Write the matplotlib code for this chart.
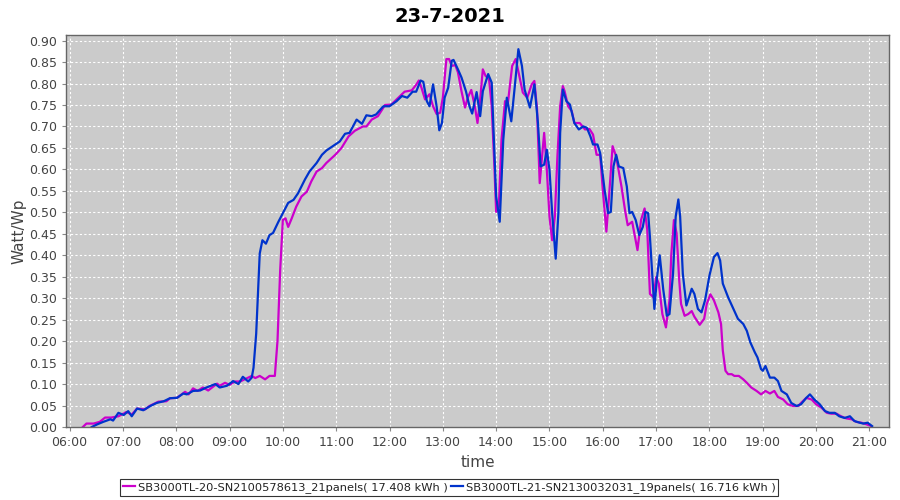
import matplotlib
matplotlib.use("Agg")
import matplotlib.pyplot as plt
import matplotlib.dates as mdates
import pandas as pd

day = "2021-07-23"

# SB3000TL-20 (21 panels), magenta
t20 = ["06:15", "06:19", "06:27", "06:34", "06:40", "06:47", "06:55", "07:04", "07:10", "07:16",
       "07:25", "07:30", "07:40", "07:49", "07:53", "08:01", "08:10", "08:14", "08:19", "08:24",
       "08:30", "08:36", "08:46", "08:49", "08:55", "09:00", "09:06", "09:12", "09:18", "09:25",
       "09:29", "09:34", "09:40", "09:45", "09:51", "09:54", "09:57", "10:00", "10:03", "10:06",
       "10:10", "10:15", "10:21", "10:27", "10:32", "10:38", "10:44", "10:49", "10:59", "11:06",
       "11:14", "11:21", "11:30", "11:34", "11:40", "11:47", "11:55", "12:02", "12:10", "12:17",
       "12:25", "12:30", "12:33", "12:36", "12:40", "12:45", "12:49", "12:53", "12:57", "13:00",
       "13:04", "13:07", "13:10", "13:14", "13:17", "13:21", "13:25", "13:28", "13:32", "13:36",
       "13:39", "13:42", "13:45", "13:48", "13:52", "13:55", "13:58", "14:00", "14:03", "14:06",
       "14:10", "14:13", "14:18", "14:22", "14:26", "14:30", "14:35", "14:40", "14:43", "14:46",
       "14:49", "14:52", "14:54", "14:57", "15:00", "15:03", "15:06", "15:09", "15:12", "15:15",
       "15:17", "15:21", "15:25", "15:28", "15:34", "15:40", "15:45", "15:49", "15:53", "15:57",
       "16:00", "16:04", "16:07", "16:11", "16:15", "16:21", "16:25", "16:28", "16:33", "16:39",
       "16:43", "16:47", "16:50", "16:53", "16:57", "17:00", "17:03", "17:07", "17:11", "17:15",
       "17:17", "17:20", "17:23", "17:26", "17:28", "17:32", "17:36", "17:40", "17:43", "17:49",
       "17:54", "17:57", "18:01", "18:05", "18:10", "18:13", "18:15", "18:18", "18:21", "18:25",
       "18:28", "18:33", "18:38", "18:42", "18:47", "18:53", "18:58", "19:03", "19:08", "19:13",
       "19:17", "19:23", "19:28", "19:34", "19:40", "19:43", "19:49", "19:55", "20:00", "20:06",
       "20:12", "20:17", "20:23", "20:28", "20:34", "20:40", "20:45", "20:51", "20:57", "21:02"]
v20 = [0.000, 0.008, 0.008, 0.012, 0.022, 0.022, 0.025, 0.035, 0.029, 0.043,
       0.041, 0.049, 0.059, 0.060, 0.067, 0.068, 0.082, 0.076, 0.090, 0.084,
       0.092, 0.085, 0.101, 0.096, 0.103, 0.098, 0.106, 0.106, 0.112, 0.119,
       0.114, 0.119, 0.111, 0.119, 0.119, 0.201, 0.365, 0.482, 0.486, 0.466,
       0.486, 0.513, 0.537, 0.548, 0.572, 0.595, 0.603, 0.615, 0.634, 0.650,
       0.677, 0.690, 0.700, 0.700, 0.716, 0.724, 0.750, 0.751, 0.767, 0.781,
       0.784, 0.797, 0.807, 0.790, 0.763, 0.775, 0.747, 0.729, 0.732, 0.767,
       0.857, 0.857, 0.841, 0.843, 0.826, 0.782, 0.744, 0.767, 0.785, 0.747,
       0.708, 0.763, 0.833, 0.818, 0.810, 0.747, 0.607, 0.501, 0.513, 0.669,
       0.759, 0.751, 0.841, 0.857, 0.818, 0.779, 0.767, 0.798, 0.806, 0.740,
       0.568, 0.638, 0.685, 0.599, 0.490, 0.435, 0.490, 0.634, 0.747, 0.794,
       0.782, 0.747, 0.736, 0.708, 0.708, 0.693, 0.694, 0.681, 0.634, 0.634,
       0.552, 0.455, 0.537, 0.654, 0.630, 0.560, 0.505, 0.470, 0.478, 0.412,
       0.482, 0.509, 0.459, 0.310, 0.302, 0.349, 0.334, 0.263, 0.232, 0.295,
       0.400, 0.482, 0.451, 0.341, 0.287, 0.259, 0.263, 0.270, 0.257, 0.238,
       0.252, 0.287, 0.309, 0.295, 0.267, 0.240, 0.178, 0.131, 0.123, 0.123,
       0.119, 0.119, 0.111, 0.103, 0.092, 0.084, 0.076, 0.084, 0.078, 0.084,
       0.070, 0.064, 0.053, 0.049, 0.049, 0.056, 0.068, 0.064, 0.053, 0.045,
       0.033, 0.031, 0.031, 0.025, 0.020, 0.018, 0.012, 0.010, 0.006, 0.002]

# SB3000TL-21 (19 panels), blue
t21 = ["06:25", "06:31", "06:38", "06:46", "06:49", "06:55", "07:01", "07:06", "07:10", "07:16",
       "07:23", "07:31", "07:38", "07:46", "07:53", "08:01", "08:08", "08:12", "08:19", "08:27",
       "08:34", "08:44", "08:49", "08:57", "09:04", "09:10", "09:15", "09:21", "09:25", "09:27",
       "09:30", "09:32", "09:34", "09:37", "09:41", "09:45", "09:49", "09:55", "10:00", "10:06",
       "10:12", "10:17", "10:25", "10:30", "10:38", "10:44", "10:49", "10:59", "11:04", "11:10",
       "11:15", "11:23", "11:29", "11:34", "11:40", "11:45", "11:53", "12:00", "12:08", "12:14",
       "12:20", "12:26", "12:30", "12:35", "12:38", "12:42", "12:45", "12:49", "12:53", "12:56",
       "12:59", "13:02", "13:06", "13:10", "13:12", "13:17", "13:21", "13:26", "13:30", "13:33",
       "13:38", "13:42", "13:45", "13:51", "13:55", "13:57", "14:00", "14:04", "14:08", "14:12",
       "14:17", "14:21", "14:25", "14:29", "14:32", "14:38", "14:43", "14:47", "14:50", "14:54",
       "14:57", "15:00", "15:03", "15:07", "15:10", "15:12", "15:15", "15:19", "15:23", "15:28",
       "15:33", "15:38", "15:42", "15:46", "15:49", "15:54", "15:57", "16:02", "16:06", "16:09",
       "16:12", "16:15", "16:18", "16:23", "16:27", "16:30", "16:33", "16:37", "16:41", "16:45",
       "16:48", "16:51", "16:53", "16:56", "16:58", "17:01", "17:04", "17:08", "17:12", "17:15",
       "17:19", "17:22", "17:25", "17:27", "17:30", "17:34", "17:37", "17:40", "17:43", "17:47",
       "17:51", "17:55", "18:00", "18:05", "18:09", "18:12", "18:15", "18:21", "18:27", "18:32",
       "18:38", "18:42", "18:46", "18:51", "18:54", "18:58", "19:00", "19:03", "19:08", "19:13",
       "19:17", "19:21", "19:27", "19:32", "19:38", "19:43", "19:49", "19:53", "19:58", "20:04",
       "20:10", "20:15", "20:21", "20:26", "20:32", "20:38", "20:43", "20:49", "20:53", "20:58",
       "21:03"]
v21 = [0.000, 0.006, 0.012, 0.018, 0.015, 0.033, 0.028, 0.037, 0.025, 0.043,
       0.039, 0.049, 0.056, 0.060, 0.067, 0.068, 0.078, 0.076, 0.084, 0.085,
       0.092, 0.100, 0.092, 0.096, 0.107, 0.100, 0.117, 0.106, 0.115, 0.138,
       0.217, 0.310, 0.404, 0.435, 0.427, 0.447, 0.452, 0.478, 0.498, 0.522,
       0.529, 0.544, 0.577, 0.595, 0.615, 0.634, 0.644, 0.658, 0.665, 0.683,
       0.685, 0.716, 0.706, 0.726, 0.724, 0.728, 0.747, 0.747, 0.759, 0.771,
       0.767, 0.781, 0.781, 0.807, 0.804, 0.759, 0.747, 0.798, 0.747, 0.691,
       0.708, 0.767, 0.790, 0.853, 0.855, 0.833, 0.814, 0.782, 0.747, 0.730,
       0.780, 0.724, 0.782, 0.822, 0.802, 0.693, 0.537, 0.478, 0.669, 0.767,
       0.712, 0.794, 0.880, 0.841, 0.786, 0.744, 0.798, 0.708, 0.607, 0.611,
       0.646, 0.599, 0.498, 0.392, 0.498, 0.685, 0.786, 0.759, 0.751, 0.708,
       0.693, 0.700, 0.697, 0.677, 0.658, 0.658, 0.638, 0.552, 0.498, 0.501,
       0.607, 0.634, 0.607, 0.603, 0.560, 0.498, 0.501, 0.482, 0.447, 0.466,
       0.501, 0.498, 0.443, 0.341, 0.275, 0.349, 0.400, 0.320, 0.259, 0.263,
       0.357, 0.490, 0.530, 0.490, 0.357, 0.283, 0.302, 0.322, 0.310, 0.275,
       0.267, 0.295, 0.353, 0.396, 0.405, 0.388, 0.334, 0.302, 0.275, 0.252,
       0.240, 0.224, 0.197, 0.174, 0.162, 0.135, 0.131, 0.142, 0.115, 0.115,
       0.107, 0.084, 0.076, 0.056, 0.049, 0.053, 0.068, 0.076, 0.064, 0.053,
       0.037, 0.033, 0.033, 0.025, 0.021, 0.025, 0.014, 0.010, 0.008, 0.010,
       0.002]

label20 = "SB3000TL-20-SN2100578613_21panels( 17.408 kWh )"
label21 = "SB3000TL-21-SN2130032031_19panels( 16.716 kWh )"

x20 = pd.to_datetime([day + " " + t for t in t20])
x21 = pd.to_datetime([day + " " + t for t in t21])

fig = plt.figure(figsize=(9, 5), dpi=100)
ax = fig.add_axes([0.0733, 0.146, 0.9145, 0.784])
ax.set_facecolor("#cbcbcb")

l1, = ax.plot(x20, v20, color="#cc00cc", lw=1.6, label=label20)
l2, = ax.plot(x21, v21, color="#0033cc", lw=1.6, label=label21)

ax.set_xlim(pd.Timestamp(day + " 05:56"), pd.Timestamp(day + " 21:22"))
ax.set_ylim(0, 0.913)
ax.set_yticks([i * 0.05 for i in range(19)])
ax.yaxis.set_major_formatter(plt.FormatStrFormatter("%.2f"))
ax.xaxis.set_major_locator(mdates.HourLocator())
ax.xaxis.set_major_formatter(mdates.DateFormatter("%H:%M"))

ax.grid(True, color="white", linestyle=(0, (2, 2)), linewidth=0.8)
ax.tick_params(colors="#888888", labelcolor="#444444", labelsize=9, length=3)
for s in ax.spines.values():
    s.set_color("#666666")
    s.set_linewidth(1)

ax.set_xlabel("time", fontsize=11, color="#444444", labelpad=4)
ax.set_ylabel("Watt/Wp", fontsize=11, color="#444444", labelpad=2)
fig.suptitle("23-7-2021", fontsize=14, fontweight="bold", y=0.985)

leg = fig.legend(handles=[l1, l2], loc="center", bbox_to_anchor=(0.499, 0.025), ncol=2,
                 fontsize=8.2, frameon=True, fancybox=False, edgecolor="black",
                 handlelength=1.1, handletextpad=0.2, columnspacing=0.3, borderpad=0.25)
leg.get_frame().set_linewidth(0.8)
for t in leg.get_texts():
    t.set_color("#222222")

fig.savefig("out.png", dpi=100)
